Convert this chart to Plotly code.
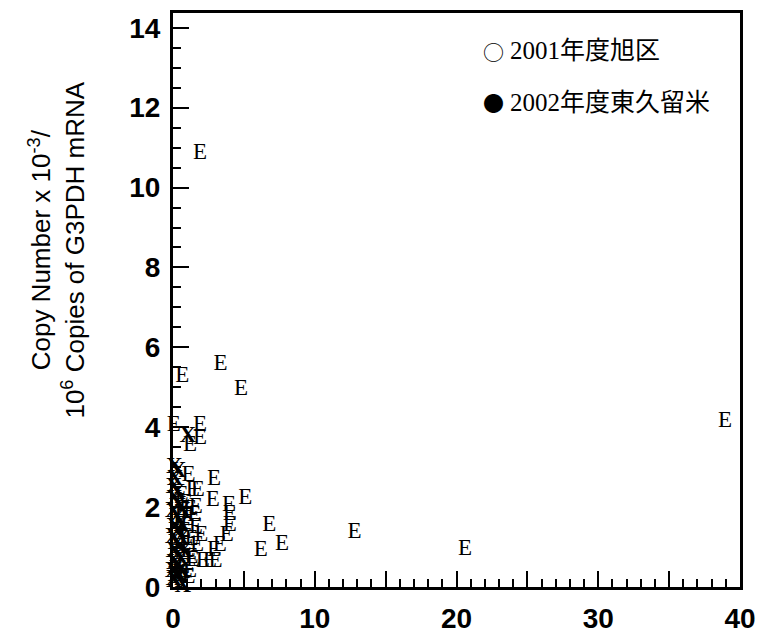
import plotly.graph_objects as go

# ---- data ----
series_2001_name = "2001年度旭区"
series_2002_name = "2002年度東久留米"

e_x = [1.9, 0.65, 3.35, 4.8, 0.05, 1.9, 1.9, 1.2, 1.1, 2.9, 1.4, 1.75, 2.8, 3.95, 5.1,
       4.0, 4.0, 3.8, 3.3, 6.8, 7.7, 6.2, 2.1, 2.6, 3.0, 1.4, 2.9, 2.0, 12.8, 20.6, 38.95,
       0.6, 1.0, 1.5, 0.8, 1.3, 0.5, 1.0, 0.7, 1.2, 0.4, 1.6, 0.9, 1.6, 1.1, 0.6,
       1.3, 0.9, 1.7, 0.5, 1.2]
e_y = [10.85, 5.28, 5.57, 4.96, 4.04, 4.04, 3.72, 3.54, 2.8, 2.7, 2.42, 2.43, 2.16, 2.05, 2.23,
       1.81, 1.54, 1.3, 1.04, 1.54, 1.07, 0.92, 0.65, 0.65, 0.65, 0.67, 0.92, 1.29, 1.36, 0.94, 4.16,
       1.9, 1.7, 1.8, 1.4, 1.2, 1.0, 0.9, 0.5, 0.4, 0.3, 1.5, 2.1, 2.0, 0.25, 2.3,
       0.75, 1.25, 1.05, 1.6, 1.95]

x_x = [1.05, 0.1, 0.35, 0.05, 0.3, 0.1, 0.4, 0.0, 0.25, 0.5, 0.1, 0.35, 0.0, 0.2, 0.45,
       0.05, 0.3, 0.55, 0.1, 0.35, 0.0, 0.2, 0.5, 0.1, 0.7, 0.6, 0.7, 0.6, 0.8, 0.15,
       0.45, 0.25, 0.6, 0.05]
x_y = [3.77, 3.0, 2.9, 2.5, 2.35, 2.2, 2.05, 1.9, 1.75, 1.6, 1.5, 1.4, 1.25, 1.1, 1.0,
       0.9, 0.8, 0.7, 0.6, 0.5, 0.4, 0.3, 0.25, 0.15, 0.02, 1.2, 1.9, 0.4, 0.9, 2.7,
       1.35, 0.55, 1.55, 0.2]

x_tickvals = [0, 5, 10, 15, 20, 25, 30, 35, 40]
x_ticktext = ["0", "", "10", "", "20", "", "30", "", "40"]
y_tickvals = [0, 2, 4, 6, 8, 10, 12, 14]
y_ticktext = ["0", "2", "4", "6", "8", "10", "12", "14"]

# ---- layout geometry (pixels) ----
W, H = 766, 644
L, R, T, B = 173, 750, 10, 590


def px(xp):
    return (xp - L) / (R - L)


def py(yp):
    return (B - yp) / (B - T)


marker_font = dict(family="Liberation Serif, Times New Roman, serif", size=23, color="black")

fig = go.Figure()
fig.add_trace(go.Scatter(x=e_x, y=e_y, mode="text", text=["E"] * len(e_x),
                         textfont=marker_font, textposition="middle center",
                         cliponaxis=False, name=series_2001_name, showlegend=False))
fig.add_trace(go.Scatter(x=x_x, y=x_y, mode="text", text=["<b>X</b>"] * len(x_x),
                         textfont=marker_font, textposition="middle center",
                         cliponaxis=False, name=series_2002_name, showlegend=False))

tick_font = dict(family="Liberation Sans, Arial, sans-serif", size=28, color="black",
                 weight="bold")

fig.update_xaxes(range=[0, 40], tickvals=x_tickvals, ticktext=x_ticktext,
                 ticks="inside", ticklen=16, tickwidth=2, tickcolor="black",
                 minor=dict(dtick=1, ticks="inside", ticklen=8, tickwidth=1.5, tickcolor="black"),
                 showline=True, linewidth=3, linecolor="black", mirror=True,
                 showgrid=False, zeroline=False, tickfont=tick_font, ticklabelstandoff=4)
fig.update_yaxes(range=[0, 14.37], tickvals=y_tickvals, ticktext=y_ticktext,
                 ticks="inside", ticklen=16, tickwidth=2, tickcolor="black",
                 minor=dict(dtick=0.5, ticks="inside", ticklen=8, tickwidth=1.5, tickcolor="black"),
                 showline=True, linewidth=3, linecolor="black", mirror=True,
                 showgrid=False, zeroline=False, tickfont=tick_font, ticklabelstandoff=4)

legend_font = dict(family="Liberation Serif, Noto Sans CJK JP, serif", size=25, color="black")
sym_font = dict(family="Noto Sans CJK JP", size=21, color="black")
fig.add_annotation(xref="paper", yref="paper", x=px(499), y=py(48), text="○",
                   showarrow=False, xanchor="center", yanchor="middle", font=sym_font)
fig.add_annotation(xref="paper", yref="paper", x=px(514), y=py(48), text=series_2001_name,
                   showarrow=False, xanchor="left", yanchor="middle", font=legend_font)
fig.add_annotation(xref="paper", yref="paper", x=px(499), y=py(100), text="●",
                   showarrow=False, xanchor="center", yanchor="middle", font=sym_font)
fig.add_annotation(xref="paper", yref="paper", x=px(514), y=py(100), text=series_2002_name,
                   showarrow=False, xanchor="left", yanchor="middle", font=legend_font)

fig.add_annotation(xref="paper", yref="paper", x=px(55), y=py(250),
                   text="Copy Number x 10<sup>-3</sup>/<br>10<sup>6</sup> Copies of G3PDH mRNA",
                   textangle=-90, showarrow=False, xanchor="center", yanchor="middle",
                   font=dict(family="Liberation Sans, Arial, sans-serif", size=26, color="black"))

fig.update_layout(width=W, height=H, margin=dict(l=L, r=W - R, t=T, b=H - B),
                  paper_bgcolor="white", plot_bgcolor="white", showlegend=False)

fig.write_html("out.html")
